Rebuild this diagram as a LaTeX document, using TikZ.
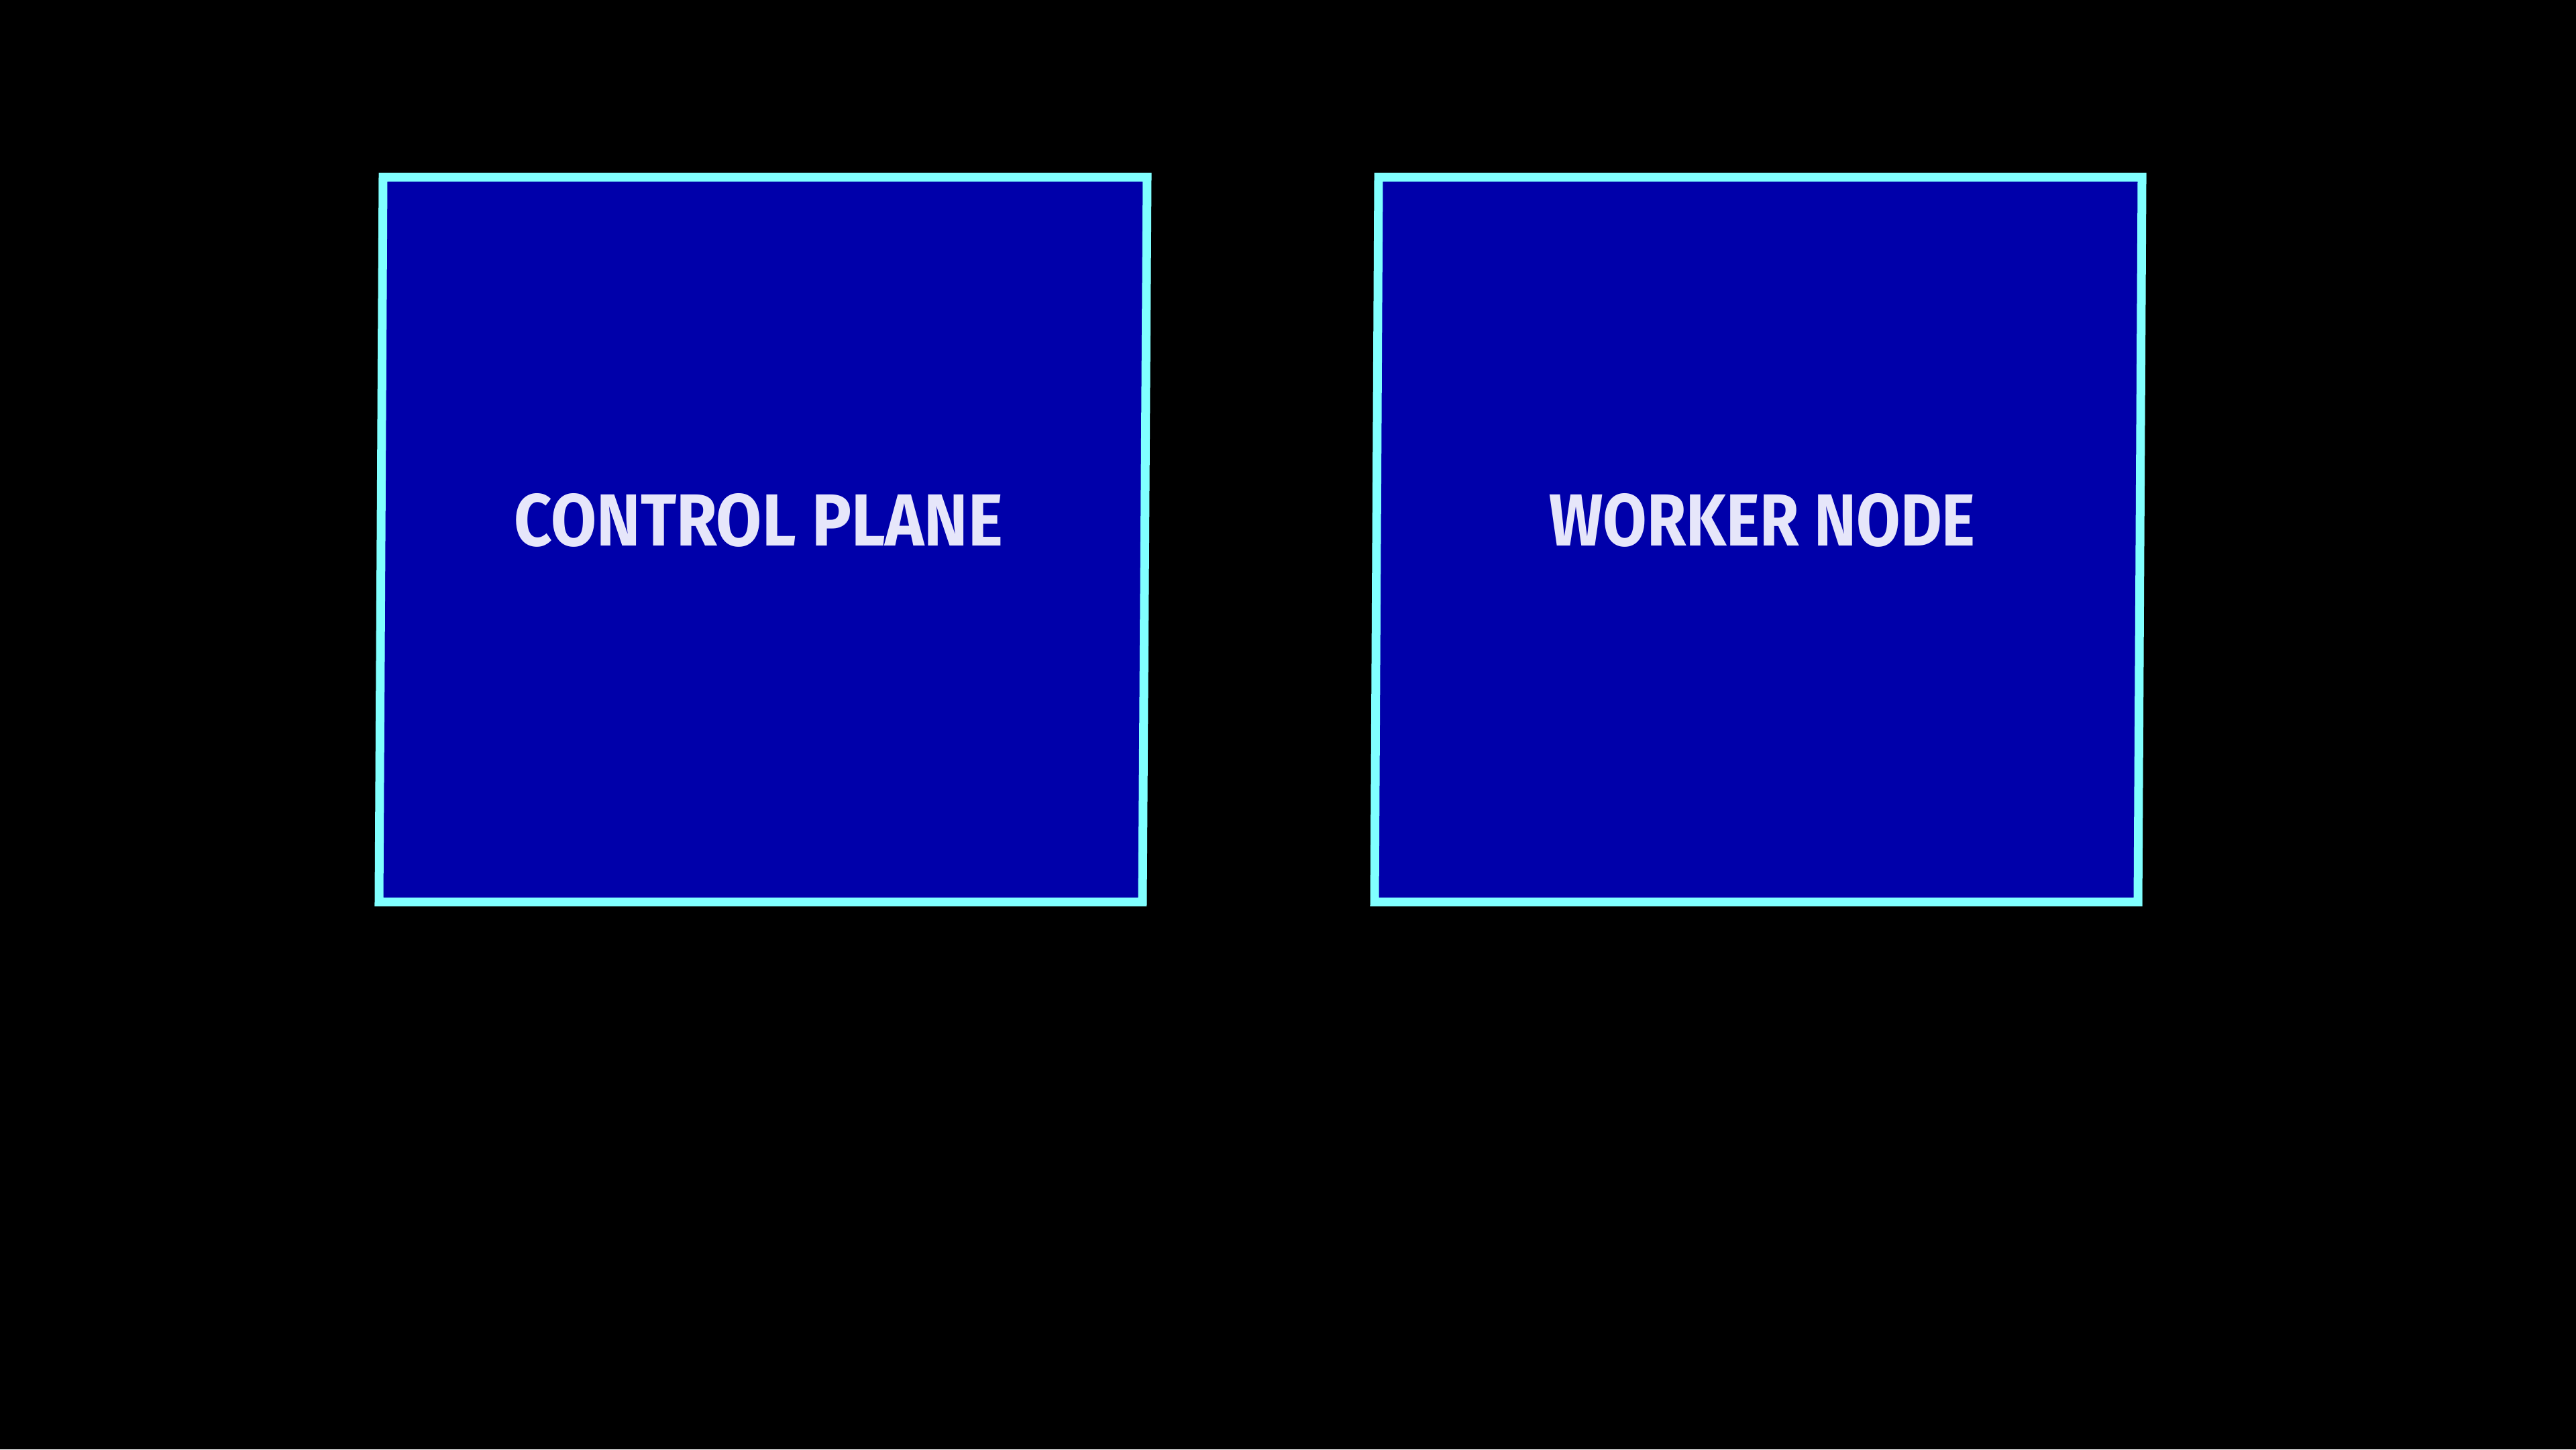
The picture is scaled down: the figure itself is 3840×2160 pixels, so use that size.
\documentclass[tikz,border=0pt]{standalone}
\usepackage{fontspec}
\setmainfont{Fira Sans}
\definecolor{boxfill}{HTML}{0000AA}
\definecolor{boxline}{HTML}{80FFFF}
\definecolor{labeltext}{HTML}{E6E6FA}
\begin{document}
\begin{tikzpicture}[x=0.01cm,y=-0.01cm,
  panel/.style={fill=boxfill,draw=boxline,line width=0.13cm,line join=miter},
  paneltext/.style={text=labeltext,inner sep=0pt,font=\bfseries}]
\fill[black] (0,0) rectangle (3840,2160);
\useasboundingbox (0,0) rectangle (3840,2160);
% control plane box
\coordinate (cpA) at (571,264);
\coordinate (cpB) at (1710,264);
\coordinate (cpC) at (1703,1344);
\coordinate (cpD) at (565,1344);
\draw[panel] (cpA) -- (cpB) -- (cpC) -- (cpD) -- cycle;
% worker node box
\coordinate (wnA) at (2055,264);
\coordinate (wnB) at (3193,264);
\coordinate (wnC) at (3187,1344);
\coordinate (wnD) at (2049,1344);
\draw[panel] (wnA) -- (wnB) -- (wnC) -- (wnD) -- cycle;
\node[paneltext] (cp) at (1131,775) {\resizebox{7.28cm}{0.78cm}{CONTROL PLANE}};
\node[paneltext] (wn) at (2627,775) {\resizebox{6.35cm}{0.78cm}{WORKER NODE}};
\end{tikzpicture}
\end{document}
